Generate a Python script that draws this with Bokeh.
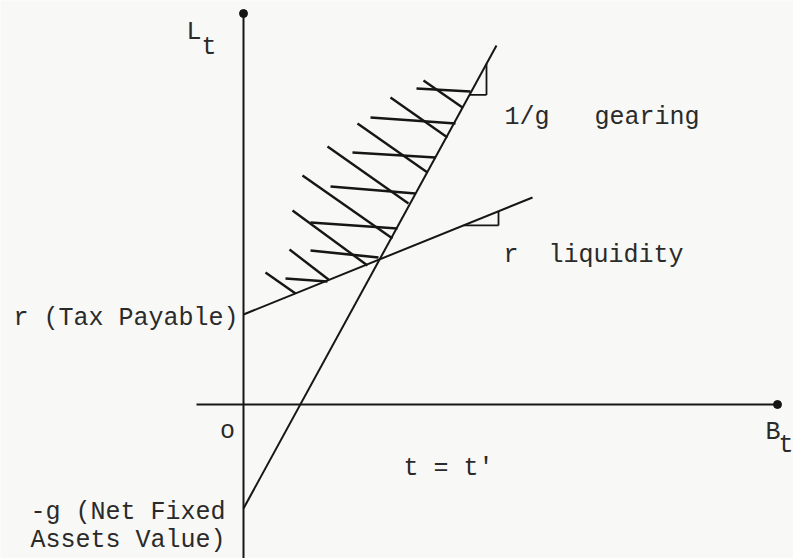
from bokeh.plotting import figure
from bokeh.models import Range1d
from bokeh.core.properties import value
from bokeh.embed import file_html
from bokeh.resources import INLINE

# ---- data (diagram units; origin at axis crossing) ----
# liquidity constraint: L = r + slope * B
liq_intercept = 9.0      # r (Tax Payable)
liq_slope = 0.405
liq_x_end = 28.9
# gearing constraint: L = -g + slope * B
gear_intercept = -10.4   # -g (Net Fixed Assets Value)
gear_slope = 1.83
gear_x_end = 25.3

# axes extents
b_axis_start = -4.7
b_axis_end = 53.4
l_axis_top = 39.1
l_axis_bottom = -16.0

# hatching: horizontal strokes
h_x0 = [17.3, 12.7, 10.9, 8.7, 6.7, 6.7, 4.2]
h_y0 = [31.6, 28.7, 25.2, 21.8, 18.2, 15.4, 12.6]
h_x1 = [22.7, 21.2, 19.2, 17.2, 15.4, 13.5, 8.4]
h_y1 = [31.3, 28.1, 24.7, 21.1, 17.6, 14.7, 12.3]
# hatching: diagonal strokes
d_x0 = [18.0, 14.7, 11.4, 8.4, 5.9, 4.9, 4.6, 2.2]
d_y0 = [32.4, 30.7, 28.1, 25.8, 22.9, 19.4, 15.5, 13.2]
d_x1 = [21.9, 20.4, 18.4, 16.5, 14.9, 12.4, 8.5, 5.2]
d_y1 = [29.7, 26.7, 23.2, 20.1, 16.6, 13.9, 12.5, 11.1]

# slope triangles (x range along each line)
gear_tri_x = [22.6, 24.3]
liq_tri_x = [22.0, 25.5]

NB = "\u00a0"
# labels
label_text = ["r (Tax Payable)", "-g (Net Fixed", "Assets Value)",
              "1/g" + NB * 3 + "gearing", "r" + NB * 2 + "liquidity",
              "t = t'", "L", "t", "B", "t"]
label_x = [-23.0, -21.3, -21.3, 26.1, 26.0, 16.0, -5.7, -4.2, 52.2, 53.5]
label_y = [8.6, -10.8, -13.6, 28.7, 14.9, -6.4, 37.2, 35.7, -2.8, -4.1]
origin_label = "o"
origin_x = -1.6
origin_y = -2.7

INK = "#161616"
BG = "#f8f8f6"
FONT = value("Liberation Mono")

p = figure(width=793, height=558,
           x_range=Range1d(-24.3, 55.0), y_range=Range1d(-15.4, 40.4),
           output_backend="svg", toolbar_location=None,
           x_axis_location=None, y_axis_location=None, min_border=0)
p.grid.visible = False
p.outline_line_color = None
p.background_fill_color = BG
p.border_fill_color = BG

# axes
p.segment(x0=[b_axis_start, 0], y0=[0, l_axis_bottom],
          x1=[b_axis_end, 0], y1=[0, l_axis_top],
          line_color=INK, line_width=2)
p.scatter(x=[b_axis_end, 0], y=[0, l_axis_top], size=8,
          color=INK, line_color=INK)

# constraint lines
p.line(x=[0, liq_x_end],
       y=[liq_intercept, liq_intercept + liq_slope * liq_x_end],
       line_color=INK, line_width=2)
p.line(x=[0, gear_x_end],
       y=[gear_intercept, gear_intercept + gear_slope * gear_x_end],
       line_color=INK, line_width=2)

# hatching
p.segment(x0=h_x0, y0=h_y0, x1=h_x1, y1=h_y1, line_color=INK, line_width=2.6)
p.segment(x0=d_x0, y0=d_y0, x1=d_x1, y1=d_y1, line_color=INK, line_width=2.4)

# slope triangles
def tri(xr, c, m):
    a, b = xr
    ya, yb = c + m * a, c + m * b
    return [a, b], [ya, ya], [b, b], [ya, yb]

for xr, c, m in [(gear_tri_x, gear_intercept, gear_slope),
                 (liq_tri_x, liq_intercept, liq_slope)]:
    hx, hy, vx, vy = tri(xr, c, m)
    p.segment(x0=[hx[0], vx[0]], y0=[hy[0], vy[0]],
              x1=[hx[1], vx[1]], y1=[hy[1], vy[1]],
              line_color=INK, line_width=1.8)

# labels
p.text(x=label_x, y=label_y, text=label_text, text_font=FONT,
       text_font_size="25px", text_align="left", text_baseline="alphabetic",
       text_color="#2a2a2a")
p.text(x=[origin_x], y=[origin_y], text=[origin_label], text_font=FONT,
       text_font_size="25px", text_align="center", text_baseline="middle",
       text_color="#2a2a2a")

open("out.html", "w").write(file_html(p, INLINE))
